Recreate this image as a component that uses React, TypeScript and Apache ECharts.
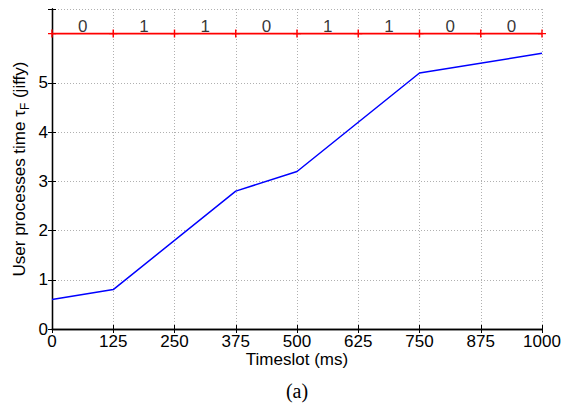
import React, { useEffect, useRef } from "react";
import * as echarts from "echarts";

const xTicks = [0, 125, 250, 375, 500, 625, 750, 875, 1000];
const blueX = [0, 125, 375, 500, 750, 1000];
const blueY = [0.6, 0.8, 2.8, 3.2, 5.2, 5.6];
const bits = ["0", "1", "1", "0", "1", "1", "0", "0"];
const redLevel = 6;
const bitLabelLevel = 6.15;

const FONT = "'Liberation Sans', Arial, Helvetica, sans-serif";
const PLUS = "path://M-0.18,-1H0.18V-0.18H1V0.18H0.18V1H-0.18V0.18H-1V-0.18H-0.18Z";

export default function App() {
  const ref = useRef<HTMLDivElement>(null);
  useEffect(() => {
    if (!ref.current) return;
    const chart = echarts.init(ref.current, null, { renderer: "svg" });
    const gridLine = { show: true, lineStyle: { color: "#b0b0b0", type: [1, 2], width: 1 } };
    const tick = { show: true, inside: true, length: 4, lineStyle: { color: "#000" } };
    chart.setOption({
      animation: false,
      backgroundColor: "#ffffff",
      grid: { left: 52, right: 27, top: 9, bottom: 76, containLabel: false },
      xAxis: [
        {
          type: "value",
          min: 0,
          max: 1000,
          interval: 125,
          axisLine: { show: true, lineStyle: { color: "#000", width: 1.3 } },
          axisTick: tick,
          axisLabel: {
            color: "#000",
            fontFamily: FONT,
            fontSize: 17,
            lineHeight: 14,
            margin: 5,
            formatter: (v: number) => String(v),
          },
          splitLine: gridLine,
          name: "Timeslot (ms)",
          nameLocation: "middle",
          nameGap: 22,
          nameMoveOverlap: false,
          nameTextStyle: { color: "#000", fontFamily: FONT, fontSize: 17, lineHeight: 16 },
        },
        {
          type: "value",
          position: "top",
          min: 0,
          max: 1000,
          interval: 125,
          axisLine: { show: true, lineStyle: { color: "#000", width: 1.3 } },
          axisTick: tick,
          axisLabel: { show: false },
          splitLine: { show: false },
        },
      ],
      yAxis: [
        {
          type: "value",
          min: 0,
          max: 6.5,
          interval: 1,
          axisLine: { show: true, lineStyle: { color: "#000", width: 1.3 } },
          axisTick: tick,
          axisLabel: {
            color: "#000",
            fontFamily: FONT,
            fontSize: 17,
            margin: 4,
            formatter: (v: number) => (v > 5 ? "" : String(v)),
          },
          splitLine: gridLine,
          name: "{n|User processes time τ}{s|F}{n| (jiffy)}",
          nameLocation: "middle",
          nameRotate: 90,
          nameGap: 21,
          nameMoveOverlap: false,
          nameTextStyle: {
            color: "#000",
            fontFamily: FONT,
            fontSize: 17,
            rich: {
              n: { fontFamily: FONT, fontSize: 17, color: "#000", lineHeight: 24, verticalAlign: "middle" },
              s: { fontFamily: FONT, fontSize: 12, color: "#000", lineHeight: 24, verticalAlign: "bottom", padding: [8, 0, 0, 0] },
            },
          },
        },
        {
          type: "value",
          position: "right",
          min: 0,
          max: 6.5,
          interval: 1,
          axisLine: { show: true, lineStyle: { color: "#000", width: 1.3 } },
          axisTick: tick,
          axisLabel: { show: false },
          splitLine: { show: false },
        },
      ],
      graphic: [
        {
          type: "text",
          x: 297,
          y: 381,
          style: {
            text: "(a)",
            font: "20px 'Liberation Serif', 'DejaVu Serif', serif",
            fill: "#000",
            align: "center",
            verticalAlign: "top",
          },
        },
      ],
      series: [
        {
          type: "line",
          data: blueX.map((x, i) => [x, blueY[i]]),
          showSymbol: false,
          symbol: "none",
          lineStyle: { color: "#0000ff", width: 1.5 },
          z: 3,
        },
        {
          type: "line",
          data: xTicks.map((x) => [x, redLevel]),
          symbol: PLUS,
          symbolSize: 8,
          itemStyle: { color: "#ff0000" },
          lineStyle: { color: "#ff0000", width: 1.8 },
          z: 4,
        },
        {
          type: "scatter",
          data: bits.map((b, i) => [(xTicks[i] + xTicks[i + 1]) / 2, bitLabelLevel]),
          symbolSize: 1,
          itemStyle: { color: "rgba(0,0,0,0)" },
          label: {
            show: true,
            position: "inside",
            color: "#000",
            fontFamily: FONT,
            fontSize: 17,
            formatter: (p: any) => bits[p.dataIndex],
          },
          z: 5,
        },
      ],
    });
    return () => chart.dispose();
  }, []);
  return <div ref={ref} style={{ position: "fixed", left: 0, top: 0, width: 569, height: 405 }} />;
}
